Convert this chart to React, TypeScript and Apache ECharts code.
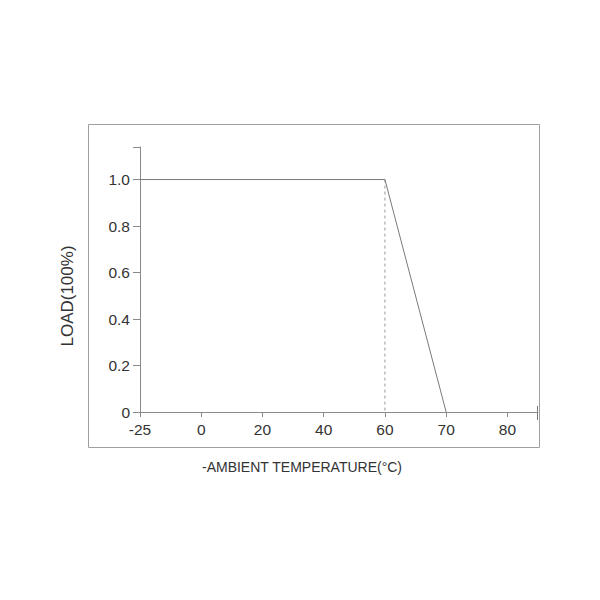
import React, { useEffect, useRef } from "react";
import * as echarts from "echarts";

const xTickLabels = ["-25", "0", "20", "40", "60", "70", "80"];
// positions are indices along the (non-linear) printed temperature scale
const loadCurve: [number, number][] = [
  [0, 1.0],
  [4, 1.0],
  [5, 0],
];
const dashedGuide: [number, number][] = [
  [4, 1.0],
  [4, 0],
];
const yTickValues = [0, 0.2, 0.4, 0.6, 0.8, 1.0];

export default function App() {
  const ref = useRef<HTMLDivElement>(null);
  useEffect(() => {
    if (!ref.current) return;
    const chart = echarts.init(ref.current, undefined, { renderer: "svg" });
    const font = "'Liberation Sans', Arial, sans-serif";
    chart.setOption({
      animation: false,
      backgroundColor: "#ffffff",
      grid: { left: 140, right: 62, top: 147, bottom: 188, containLabel: false },
      xAxis: {
        type: "value",
        min: 0,
        max: 6.5,
        interval: 1,
        splitLine: { show: false },
        axisLine: { lineStyle: { color: "#8a8a8a", width: 1 } },
        axisTick: { length: 5, lineStyle: { color: "#8a8a8a" } },
        axisLabel: {
          margin: 9,
          color: "#333",
          fontSize: 15.5,
          fontFamily: font,
          showMaxLabel: false,
          formatter: (v: number) => {
            const i = Math.round(v);
            return Math.abs(v - i) < 1e-6 && i < xTickLabels.length ? xTickLabels[i] : "";
          },
        },
      },
      yAxis: {
        type: "value",
        min: 0,
        max: 1.14,
        interval: 0.2,
        splitLine: { show: false },
        axisLine: { lineStyle: { color: "#8a8a8a", width: 1 } },
        axisTick: { length: 7, lineStyle: { color: "#8a8a8a" } },
        axisLabel: {
          margin: 10,
          color: "#333",
          fontSize: 15.5,
          fontFamily: font,
          formatter: (v: number) => {
            const m = yTickValues.find((t) => Math.abs(t - v) < 1e-6);
            if (m === undefined) return "";
            return m === 0 ? "0" : m.toFixed(1);
          },
        },
      },
      graphic: [
        {
          type: "rect",
          shape: { x: 88.5, y: 124.5, width: 451, height: 323 },
          style: { fill: "none", stroke: "#a0a0a0", lineWidth: 1 },
          silent: true,
        },
        {
          type: "line",
          shape: { x1: 537.5, y1: 406, x2: 537.5, y2: 420 },
          style: { stroke: "#777", lineWidth: 1 },
          silent: true,
        },
        {
          type: "text",
          x: 302,
          y: 467,
          style: {
            text: "-AMBIENT TEMPERATURE(°C)",
            fontSize: 14,
            fontFamily: font,
            fill: "#333",
            align: "center",
            verticalAlign: "middle",
          },
        },
        {
          type: "text",
          x: 67,
          y: 296,
          rotation: Math.PI / 2,
          style: {
            text: "LOAD(100%)",
            fontSize: 17,
            fontFamily: font,
            fill: "#333",
            align: "center",
            verticalAlign: "middle",
          },
        },
      ],
      series: [
        {
          type: "line",
          data: loadCurve,
          symbol: "none",
          lineStyle: { color: "#7a7a7a", width: 1 },
          z: 3,
        },
        {
          type: "line",
          data: dashedGuide,
          symbol: "none",
          lineStyle: { color: "#9a9a9a", width: 1, type: [3, 3] },
          z: 2,
        },
      ],
    });
    return () => chart.dispose();
  }, []);
  return <div ref={ref} style={{ width: 600, height: 600, margin: -8 }} />;
}
